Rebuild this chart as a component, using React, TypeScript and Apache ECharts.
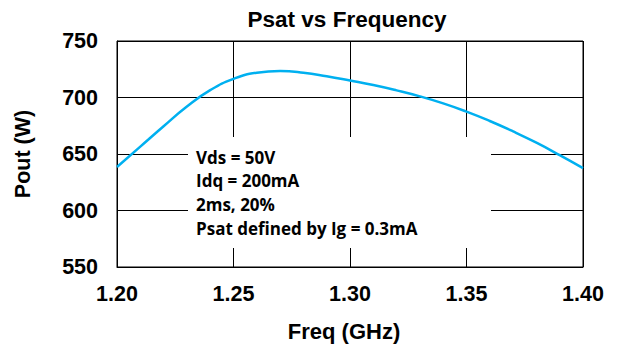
import React, { useEffect, useRef } from "react";
import * as echarts from "echarts";

const freqs = [1.2, 1.21, 1.22, 1.23, 1.24, 1.25, 1.26, 1.27, 1.28, 1.29, 1.3, 1.31, 1.32, 1.33, 1.34, 1.35, 1.36, 1.37, 1.38, 1.39, 1.4];
const pout = [638.5, 656.5, 674.5, 692, 706.5, 716.5, 722, 723.5, 722, 718.8, 715, 711, 706.3, 701, 694.8, 687.5, 679.2, 670, 660, 649, 637.5];
const noteLines = ["Vds = 50V", "Idq = 200mA", "2ms, 20%", "Psat defined by Ig = 0.3mA"];

export default function App() {
  const ref = useRef<HTMLDivElement>(null);
  useEffect(() => {
    if (!ref.current) return;
    const chart = echarts.init(ref.current, null, { renderer: "svg" });
    const font = "'Liberation Sans', Arial, sans-serif";
    chart.setOption({
      animation: false,
      backgroundColor: "#fff",
      title: {
        text: "Psat vs Frequency",
        left: 342,
        top: 3,
        textAlign: "center",
        textStyle: { fontFamily: font, fontWeight: "bold", fontSize: 22.5, color: "#000" },
      },
      grid: { left: 117, right: 36, top: 41, bottom: 82, show: false },
      xAxis: {
        type: "value",
        min: 1.2,
        max: 1.4,
        interval: 0.05,
        name: "Freq (GHz)",
        nameLocation: "middle",
        nameGap: 53,
        nameTextStyle: { fontFamily: font, fontWeight: "bold", fontSize: 22, color: "#000", padding: [0, 12, 0, 0] },
        axisLine: { show: true, lineStyle: { color: "#000", width: 1 } },
        axisTick: { show: false },
        axisLabel: {
          margin: 16,
          fontFamily: font,
          fontWeight: "bold",
          fontSize: 21.5,
          color: "#000",
          formatter: (v: number) => v.toFixed(2),
        },
        splitLine: { show: true, lineStyle: { color: "#000", width: 1 } },
      },
      yAxis: {
        type: "value",
        min: 550,
        max: 750,
        interval: 50,
        name: "Pout (W)",
        nameLocation: "middle",
        nameGap: 83,
        nameTextStyle: { fontFamily: font, fontWeight: "bold", fontSize: 21.5, color: "#000" },
        axisLine: { show: true, lineStyle: { color: "#000", width: 1 } },
        axisTick: { show: false },
        axisLabel: { margin: 19, fontFamily: font, fontWeight: "bold", fontSize: 21.5, color: "#000" },
        splitLine: { show: true, lineStyle: { color: "#000", width: 1 } },
      },
      series: [
        {
          type: "line",
          data: freqs.map((f, i) => [f, pout[i]]),
          smooth: 0.5,
          symbol: "none",
          lineStyle: { color: "#00B0F0", width: 2.5 },
          z: 5,
        },
      ],
      graphic: [
        {
          type: "rect",
          shape: { x: 188, y: 137, width: 303, height: 111 },
          style: { fill: "#fff" },
          z: 3,
        },
        {
          type: "rect",
          shape: { x: 117, y: 41, width: 466, height: 226 },
          style: { fill: "none", stroke: "#000", lineWidth: 1 },
          z: 4,
        },
        ...noteLines.map((t, i) => ({
          type: "text",
          x: 196,
          y: 157 + i * 23.8,
          z: 6,
          style: {
            text: t,
            fontFamily: "'Open Sans', sans-serif",
            fontWeight: "bold",
            fontSize: 17,
            fill: "#000",
            textVerticalAlign: "middle",
            textAlign: "left",
          },
        })),
      ],
    });
    return () => chart.dispose();
  }, []);
  return <div ref={ref} style={{ width: 619, height: 349, marginLeft: -8, marginTop: -8 }} />;
}
